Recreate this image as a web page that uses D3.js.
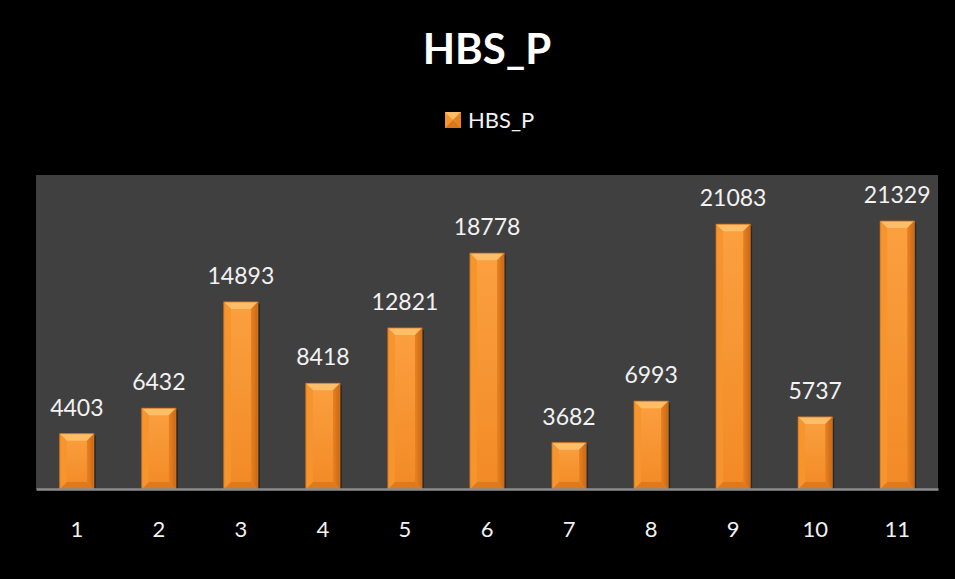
<!DOCTYPE html>
<html><head><meta charset="utf-8">
<script src="https://cdn.jsdelivr.net/npm/d3@7"></script>
<style>body{margin:0;background:#000;}svg{display:block;}</style>
</head><body>
<script>
const categories = ["1","2","3","4","5","6","7","8","9","10","11"];
const values = [4403,6432,14893,8418,12821,18778,3682,6993,21083,5737,21329];
const seriesName = "HBS_P";
const yMax = 25000;

const W = 955, H = 579;
const font = "Lato, 'Open Sans', sans-serif";
const svg = d3.select("body").append("svg").attr("width", W).attr("height", H);
svg.append("rect").attr("width", W).attr("height", H).attr("fill", "#000");

const plot = {x0: 36, x1: 938, y0: 175, y1: 489};
svg.append("rect").attr("x", plot.x0).attr("y", plot.y0)
  .attr("width", plot.x1 - plot.x0).attr("height", plot.y1 - plot.y0).attr("fill", "#404040");

const x = d3.scaleBand().domain(categories).range([plot.x0, plot.x1]).paddingInner(0.585).paddingOuter(0.29);
const y = d3.scaleLinear().domain([0, yMax]).range([plot.y1, plot.y0]);

const defs = svg.append("defs");
const g1 = defs.append("linearGradient").attr("id","face").attr("x1","0").attr("x2","0").attr("y1","0").attr("y2","1");
g1.append("stop").attr("offset","0").attr("stop-color","#FBA040");
g1.append("stop").attr("offset","1").attr("stop-color","#F28A26");
const gs = defs.append("linearGradient").attr("id","sideR").attr("x1","0").attr("x2","1");
gs.append("stop").attr("offset","0").attr("stop-color","#E9821F");
gs.append("stop").attr("offset","1").attr("stop-color","#C8681A");

const bars = svg.append("g");
categories.forEach((c, i) => {
  const bx = x(c), bw = x.bandwidth(), by = y(values[i]), bh = y(0) - y(values[i]);
  const b = Math.min(7, bh / 2);
  const g = bars.append("g");
  g.append("rect").attr("x", bx + 2).attr("y", by + 2).attr("width", bw).attr("height", bh - 2).attr("fill", "rgba(0,0,0,0.35)");
  g.append("rect").attr("x", bx).attr("y", by).attr("width", bw).attr("height", bh).attr("fill", "url(#face)");
  const L = bx, R = bx + bw, T = by, B = by + bh;
  g.append("polygon").attr("points", [[L,T],[R,T],[R-b,T+b],[L+b,T+b]].join(" ")).attr("fill", "#FDBE6A");
  g.append("polygon").attr("points", [[L,B],[R,B],[R-b,B-b],[L+b,B-b]].join(" ")).attr("fill", "#DD7A1E");
  g.append("polygon").attr("points", [[L,T],[L+b,T+b],[L+b,B-b],[L,B]].join(" ")).attr("fill", "#F6942E");
  g.append("polygon").attr("points", [[R,T],[R-b,T+b],[R-b,B-b],[R,B]].join(" ")).attr("fill", "url(#sideR)");
  g.append("rect").attr("x", bx).attr("y", by).attr("width", bw).attr("height", bh).attr("fill", "none").attr("stroke", "#D87418").attr("stroke-width", 0.8);
});

svg.append("g").selectAll("text").data(values).join("text")
  .attr("x", (d, i) => x(categories[i]) + x.bandwidth() / 2)
  .attr("y", d => y(d) - 18)
  .attr("text-anchor", "middle").attr("fill", "#F2F2F2")
  .attr("font-family", font).attr("font-size", 23).text(d => d);

// baseline axis
const xAxis = d3.axisBottom(x).tickSize(0).tickPadding(32);
const ax = svg.append("g").attr("transform", `translate(0,${plot.y1})`).call(xAxis);
ax.select(".domain").attr("stroke", "#8C8C8C").attr("stroke-width", 2.5);
ax.selectAll("text").attr("fill", "#F2F2F2").attr("font-family", font).attr("font-size", 22);

svg.append("text").attr("x", 487).attr("y", 64).attr("text-anchor", "middle")
  .attr("fill", "#fff").attr("font-family", font).attr("font-weight", "bold").attr("font-size", 42).text(seriesName);

// legend
const lg = svg.append("g").attr("transform", "translate(445,112)");
const s = 16;
lg.append("rect").attr("width", s).attr("height", s).attr("fill", "#F6952F");
lg.append("polygon").attr("points", [[0,0],[s,0],[s/2,s/2]].join(" ")).attr("fill", "#FDBE6A");
lg.append("polygon").attr("points", [[0,s],[s,s],[s/2,s/2]].join(" ")).attr("fill", "#D9761C");
lg.append("polygon").attr("points", [[s,0],[s,s],[s/2,s/2]].join(" ")).attr("fill", "#E8841F");
lg.append("text").attr("x", 23).attr("y", 16).attr("fill", "#F2F2F2")
  .attr("font-family", font).attr("font-size", 22).text(seriesName);
</script>
</body></html>
